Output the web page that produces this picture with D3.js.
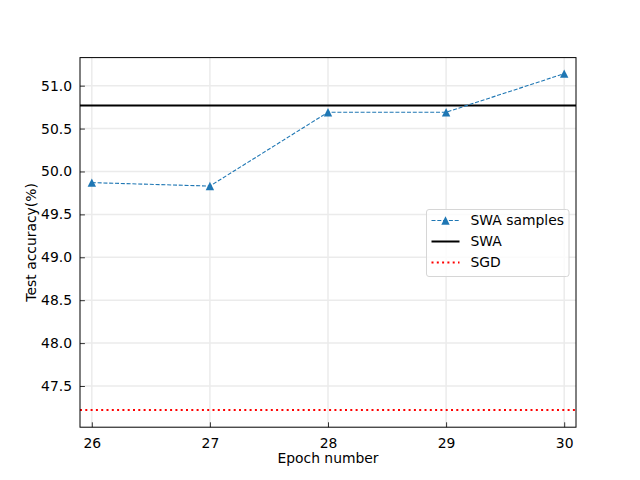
<!DOCTYPE html>
<html>
<head>
<meta charset="utf-8">
<script src="https://cdn.jsdelivr.net/npm/d3@7"></script>
<style>
  body { margin: 0; background: #fff; }
  text { font-family: "DejaVu Sans", sans-serif; fill: #000; }
</style>
</head>
<body>
<svg id="chart" width="640" height="480"></svg>
<script>
// data
var epochs = [26, 27, 28, 29, 30];
var swaSamples = [49.87, 49.83, 50.69, 50.69, 51.14];
var swaValue = 50.77;
var sgdValue = 47.22;
var xTicks = [26, 27, 28, 29, 30];
var yTicks = [47.5, 48.0, 48.5, 49.0, 49.5, 50.0, 50.5, 51.0];
var legendItems = ['SWA samples', 'SWA', 'SGD'];

var margin = { top: 57.6, right: 64, bottom: 52.8, left: 80 };
var width = 640 - margin.left - margin.right,
  height = 480 - margin.top - margin.bottom;

var svg = d3.select('#chart');
var g = svg.append('g')
  .attr('transform', 'translate(' + margin.left + ',' + margin.top + ')');

var x = d3.scaleLinear().domain([25.9, 30.1]).range([0, width]);
var y = d3.scaleLinear().domain([47.02, 51.327]).range([height, 0]);

// grid
g.append('g').selectAll('line.vx')
  .data(xTicks)
  .enter().append('line')
  .attr('x1', function (d) { return x(d); })
  .attr('x2', function (d) { return x(d); })
  .attr('y1', 0).attr('y2', height)
  .attr('stroke', '#ebebeb').attr('stroke-width', 1.5);
g.append('g').selectAll('line.hy')
  .data(yTicks)
  .enter().append('line')
  .attr('y1', function (d) { return y(d); })
  .attr('y2', function (d) { return y(d); })
  .attr('x1', 0).attr('x2', width)
  .attr('stroke', '#ebebeb').attr('stroke-width', 1.5);

// SGD / SWA reference lines
g.append('line')
  .attr('x1', 0).attr('x2', width)
  .attr('y1', y(sgdValue)).attr('y2', y(sgdValue))
  .attr('stroke', 'red').attr('stroke-width', 2)
  .attr('stroke-dasharray', '2,3.3');
g.append('line')
  .attr('x1', 0).attr('x2', width)
  .attr('y1', y(swaValue)).attr('y2', y(swaValue))
  .attr('stroke', '#000').attr('stroke-width', 2);

// SWA samples
var line = d3.line()
  .x(function (d, i) { return x(epochs[i]); })
  .y(function (d) { return y(d); });
g.append('path')
  .datum(swaSamples)
  .attr('d', line)
  .attr('fill', 'none')
  .attr('stroke', '#1f77b4').attr('stroke-width', 1.1)
  .attr('stroke-dasharray', '4,1.8');

g.append('g').selectAll('path')
  .data(swaSamples)
  .enter().append('path')
  .attr('d', 'M0,-4.2L4.2,4.2L-4.2,4.2Z')
  .attr('transform', function (d, i) {
    return 'translate(' + x(epochs[i]) + ',' + y(d) + ')';
  })
  .attr('fill', '#1f77b4');

// axes
var xAxis = d3.axisBottom(x).tickValues(xTicks)
  .tickSizeInner(-4.9).tickSizeOuter(0).tickPadding(8)
  .tickFormat(d3.format('d'));
var yAxis = d3.axisLeft(y).tickValues(yTicks)
  .tickSizeInner(-4.9).tickSizeOuter(0).tickPadding(8)
  .tickFormat(d3.format('.1f'));

var gx = g.append('g').attr('transform', 'translate(0,' + height + ')').call(xAxis);
var gy = g.append('g').call(yAxis);
[gx, gy].forEach(function (a) {
  a.select('.domain').remove();
  a.selectAll('text').style('font-family', '"DejaVu Sans", sans-serif')
    .style('font-size', '13.9px').attr('fill', '#000');
  a.selectAll('line').attr('stroke', '#000').attr('stroke-width', 0.8);
});
gx.selectAll('text').attr('dy', '0.9em');

g.append('rect')
  .attr('width', width).attr('height', height)
  .attr('fill', 'none').attr('stroke', '#000').attr('stroke-width', 1);

// labels
svg.append('text')
  .attr('x', margin.left + width / 2).attr('y', 463)
  .attr('text-anchor', 'middle')
  .style('font-size', '13.9px')
  .text('Epoch number');
svg.append('text')
  .attr('transform', 'translate(36,' + (margin.top + height / 2) + ') rotate(-90)')
  .attr('text-anchor', 'middle')
  .style('font-size', '13.9px')
  .text('Test accuracy(%)');

// legend
var lg = svg.append('g').attr('transform', 'translate(426.5,209.5)');
lg.append('rect')
  .attr('width', 142.5).attr('height', 67)
  .attr('rx', 2.5)
  .attr('fill', 'rgba(255,255,255,0.8)')
  .attr('stroke', '#d6d6d6').attr('stroke-width', 1);

var rows = lg.selectAll('g.row')
  .data(legendItems)
  .enter().append('g')
  .attr('transform', function (d, i) { return 'translate(0,' + (11 + i * 21) + ')'; });

rows.append('text')
  .attr('x', 44).attr('dy', '0.35em')
  .style('font-size', '13.9px')
  .text(function (d) { return d; });

rows.each(function (d, i) {
  var r = d3.select(this);
  if (i === 0) {
    r.append('line').attr('x1', 5).attr('x2', 33)
      .attr('stroke', '#1f77b4').attr('stroke-width', 1.1)
      .attr('stroke-dasharray', '4,1.8');
    r.append('path').attr('d', 'M19,-4.2L23.2,4.2L14.8,4.2Z').attr('fill', '#1f77b4');
  } else if (i === 1) {
    r.append('line').attr('x1', 5).attr('x2', 33)
      .attr('stroke', '#000').attr('stroke-width', 2);
  } else {
    r.append('line').attr('x1', 5).attr('x2', 33)
      .attr('stroke', 'red').attr('stroke-width', 2)
      .attr('stroke-dasharray', '2,3.3');
  }
});
</script>
</body>
</html>
